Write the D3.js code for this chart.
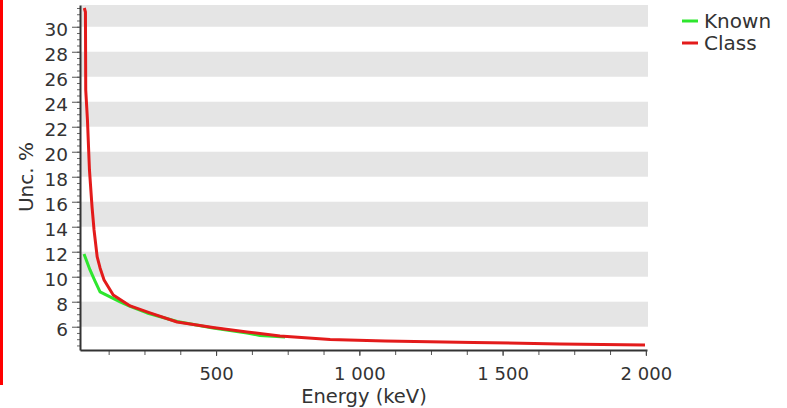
<!DOCTYPE html>
<html>
<head>
<meta charset="utf-8">
<script src="https://cdn.jsdelivr.net/npm/d3@7"></script>
<style>
  body { margin: 0; background: #fff; }
  #chart { width: 787px; height: 408px; }
  text { font-family: "DejaVu Sans", Verdana, sans-serif; fill: #333; }
</style>
</head>
<body>
<div id="chart"></div>
<script>
// energy (keV) / uncertainty (%) pairs
const knownEnergy = [39, 60, 77, 95, 130, 165, 200, 259, 364, 489, 608, 653, 741];
const knownUnc = [11.82, 10.54, 9.66, 8.78, 8.38, 7.98, 7.62, 7.10, 6.42, 5.90, 5.50, 5.30, 5.18];

const classEnergy = [40, 44, 45, 51, 58, 67, 74, 85, 95, 109, 141, 200, 269, 364, 489, 608, 723, 898, 1090, 1398, 1700, 1997];
const classUnc = [31.50, 31.18, 24.94, 22.54, 18.54, 15.58, 13.74, 11.58, 10.70, 9.74, 8.54, 7.66, 7.10, 6.38, 5.94, 5.58, 5.26, 4.98, 4.86, 4.74, 4.62, 4.54];

const xTicks = [500, 1000, 1500, 2000];
const xTickLabels = ["500", "1 000", "1 500", "2 000"];
const yTicks = [6, 8, 10, 12, 14, 16, 18, 20, 22, 24, 26, 28, 30];

const seriesNames = ["Known", "Class"];
const seriesColors = ["#2ee62e", "#e31b1b"];

const fullWidth = 787;
const fullHeight = 408;
const margin = { top: 5, right: 140, bottom: 58, left: 80 };

const svg = d3.select("#chart").append("svg")
  .attr("width", fullWidth)
  .attr("height", fullHeight);

// red frame edge at the left of the picture
svg.append("rect")
  .attr("x", 0).attr("y", 0)
  .attr("width", 3).attr("height", 385)
  .attr("fill", "#ff0000");

const x = d3.scaleLinear().domain([25, 2004]).range([margin.left, fullWidth - margin.right]);
const y = d3.scaleLinear().domain([4.136, 31.74]).range([fullHeight - margin.bottom, margin.top]);

// alternating grey bands: [6,8], [10,12], ... [30,32]
const bands = yTicks.filter((t, i) => i % 2 === 0).map(t => [t, Math.min(t + 2, y.domain()[1])]);
svg.append("g")
  .selectAll("rect")
  .data(bands)
  .enter()
  .append("rect")
  .attr("x", margin.left + 1)
  .attr("width", x.range()[1] - margin.left)
  .attr("y", d => y(d[1]))
  .attr("height", d => y(d[0]) - y(d[1]))
  .attr("fill", "#e5e5e5");

const line = d3.line()
  .x(d => x(d[0]))
  .y(d => y(d[1]));

const series = [
  d3.zip(knownEnergy, knownUnc),
  d3.zip(classEnergy, classUnc)
];

svg.append("g")
  .selectAll("path")
  .data(series)
  .enter()
  .append("path")
  .attr("d", line)
  .attr("fill", "none")
  .attr("stroke", (d, i) => seriesColors[i])
  .attr("stroke-width", 3)
  .attr("stroke-linejoin", "round");

// minor ticks
svg.append("g")
  .attr("transform", `translate(0,${y.range()[0]})`)
  .call(d3.axisBottom(x).tickValues(d3.range(125, 2001, 125)).tickSize(5).tickFormat(""))
  .call(g => g.select(".domain").remove())
  .call(g => g.selectAll("line").attr("stroke", "#555"));

svg.append("g")
  .attr("transform", `translate(${margin.left},0)`)
  .call(d3.axisLeft(y).tickValues(d3.range(4.5, 31.6, 0.5)).tickSize(3).tickFormat(""))
  .call(g => g.select(".domain").remove())
  .call(g => g.selectAll("line").attr("stroke", "#666"));

// main axes
svg.append("g")
  .attr("transform", `translate(0,${y.range()[0]})`)
  .call(d3.axisBottom(x).tickValues(xTicks).tickSize(6).tickSizeOuter(0)
    .tickFormat((d, i) => xTickLabels[i]))
  .call(g => g.select(".domain").attr("stroke", "#333").attr("stroke-width", 2))
  .call(g => g.selectAll("line").attr("stroke", "#444"))
  .call(g => g.selectAll("text")
    .attr("y", 30).attr("dy", 0)
    .attr("font-size", "18px")
    .attr("font-family", "DejaVu Sans, Verdana, sans-serif")
    .attr("fill", "#333"));

svg.append("g")
  .attr("transform", `translate(${margin.left},0)`)
  .call(d3.axisLeft(y).tickValues(yTicks).tickSize(8).tickSizeOuter(0).tickPadding(4))
  .call(g => g.select(".domain").attr("stroke", "#333").attr("stroke-width", 2))
  .call(g => g.selectAll("line").attr("stroke", "#555"))
  .call(g => g.selectAll("text")
    .attr("dy", "0.5em")
    .attr("font-size", "18.5px")
    .attr("font-family", "DejaVu Sans, Verdana, sans-serif")
    .attr("fill", "#333"));

// axis titles
svg.append("text")
  .attr("x", 364)
  .attr("y", 403)
  .attr("text-anchor", "middle")
  .attr("font-size", "19.5px")
  .text("Energy (keV)");

svg.append("text")
  .attr("transform", "rotate(-90)")
  .attr("x", -177)
  .attr("y", 33)
  .attr("text-anchor", "middle")
  .attr("font-size", "20px")
  .text("Unc. %");

// legend
const legend = svg.append("g")
  .selectAll("g")
  .data(seriesNames)
  .enter()
  .append("g")
  .attr("transform", (d, i) => `translate(682,${21 + i * 22})`);

legend.append("line")
  .attr("x1", 0).attr("x2", 16)
  .attr("y1", 0).attr("y2", 0)
  .attr("stroke", (d, i) => seriesColors[i])
  .attr("stroke-width", 3);

legend.append("text")
  .attr("x", 22)
  .attr("y", 7)
  .attr("font-size", "20px")
  .text(d => d);
</script>
</body>
</html>
